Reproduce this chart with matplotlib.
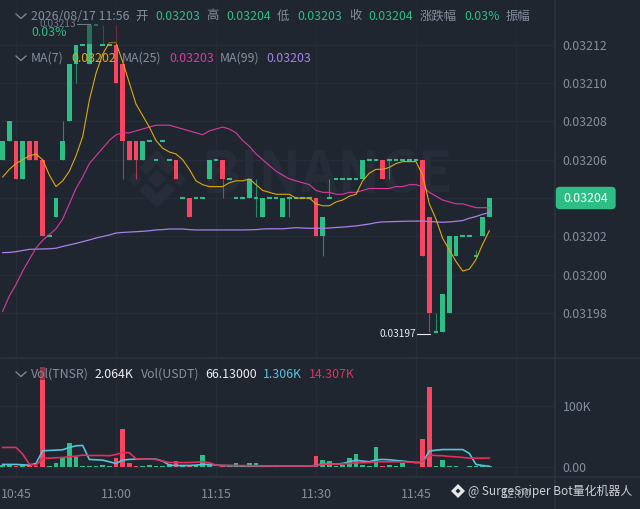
import matplotlib
matplotlib.use('Agg')
import matplotlib.pyplot as plt
from matplotlib.patches import Polygon, Rectangle, FancyBboxPatch
from matplotlib.lines import Line2D
from matplotlib.transforms import Affine2D

plt.rcParams['font.family'] = ['Noto Sans CJK SC', 'DejaVu Sans']

# prices are in units of 0.00001, so 204 means 0.03204
opens = [206, 207, 207, 205, 207, 207, 206, 202, 203, 206, 208, 211, 212, 211, 213, 212, 212, 212, 211, 207,
         207, 206, 207, 206, 207, 206, 206, 204, 204, 204, 204, 205, 206, 206, 205, 204, 204, 204, 204, 203,
         204, 204, 203, 204, 204, 204, 204, 204, 202, 204, 205, 205, 205, 205, 205, 206, 206, 206, 206, 206,
         206, 206, 206, 206, 203, 197, 197, 198, 201, 202, 202, 201, 202, 203]
highs = [207, 208, 207, 207, 207, 207, 206, 202, 204, 208, 211, 212, 212, 213, 213, 213, 212, 213, 211, 207,
         207, 207, 207, 206, 207, 206, 206, 204, 204, 204, 204, 206, 206, 206, 205, 204, 204, 205, 205, 204,
         204, 204, 204, 204, 204, 204, 204, 204, 203, 205, 205, 205, 205, 205, 206, 206, 206, 206, 206, 206,
         206, 206, 206, 206, 203, 198, 199, 202, 202, 202, 202, 201.3, 203, 204]
lows = [206, 207, 205, 205, 206, 206, 202, 202, 203, 206, 208, 210, 212, 211, 213, 212, 212, 210, 205, 206,
        205, 206, 207, 206, 207, 206, 205, 204, 203, 204, 204, 205, 206, 204, 205, 204, 204, 204, 203, 203,
        204, 204, 203, 203, 204, 204, 204, 202, 201, 204, 205, 205, 205, 205, 205, 206, 206, 205, 205, 206,
        206, 206, 206, 201, 197, 197, 197, 198, 201, 202, 202, 201, 202, 203]
closes = [207, 208, 205, 207, 206, 206, 202, 202, 204, 207, 211, 212, 212, 213, 213, 212, 212, 210, 207, 206,
          206, 207, 207, 206, 207, 206, 205, 204, 203, 204, 204, 206, 206, 205, 205, 204, 204, 205, 204, 204,
          204, 204, 204, 204, 204, 204, 204, 202, 203, 204, 205, 205, 205, 205, 206, 206, 206, 205, 206, 206,
          206, 206, 206, 201, 198, 197, 199, 202, 202, 202, 202, 201, 203, 204]

ma7 = [205.1, 205.5, 205.8, 206.0, 206.2, 206.3, 206.0, 205.2, 204.6, 204.9, 205.4, 206.2, 207.2, 209.1, 210.5,
       211.5, 212.1, 212.1, 211.1, 210.0, 208.9, 208.3, 207.7, 207.0, 206.6, 206.4, 206.3, 206.0, 205.5, 204.9,
       204.7, 204.6, 204.6, 204.6, 204.8, 204.9, 204.9, 205.0, 204.7, 204.4, 204.3, 204.2, 204.2, 204.2, 204.0,
       204.0, 204.0, 203.7, 203.6, 203.6, 203.8, 203.9, 204.1, 204.2, 204.9, 205.3, 205.5, 205.5, 205.6, 205.8,
       205.9, 205.9, 205.9, 205.2, 203.7, 202.9, 201.9, 201.3, 200.7, 200.2, 200.3, 200.8, 201.6, 202.3]
ma25 = [198.1, 198.9, 199.5, 200.2, 200.8, 201.4, 201.8, 202.1, 202.4, 202.9, 203.7, 204.5, 205.1, 205.8, 206.2,
        206.6, 207.0, 207.3, 207.4, 207.4, 207.5, 207.6, 207.7, 207.8, 207.8, 207.8, 207.7, 207.6, 207.5, 207.4,
        207.3, 207.5, 207.6, 207.7, 207.6, 207.4, 207.0, 206.7, 206.3, 206.0, 205.7, 205.4, 205.2, 205.0, 204.9,
        204.8, 204.7, 204.4, 204.3, 204.3, 204.2, 204.2, 204.3, 204.3, 204.4, 204.5, 204.5, 204.5, 204.5, 204.6,
        204.6, 204.7, 204.7, 204.6, 204.3, 204.1, 203.9, 203.8, 203.7, 203.7, 203.6, 203.5, 203.5, 203.5]
ma99 = [201.16, 201.17, 201.21, 201.27, 201.33, 201.34, 201.35, 201.36, 201.39, 201.48, 201.56, 201.64, 201.73,
        201.82, 201.92, 202.00, 202.08, 202.18, 202.21, 202.23, 202.25, 202.27, 202.30, 202.34, 202.36, 202.39,
        202.39, 202.39, 202.36, 202.34, 202.34, 202.34, 202.34, 202.34, 202.34, 202.34, 202.34, 202.35, 202.36,
        202.39, 202.40, 202.40, 202.40, 202.43, 202.46, 202.44, 202.43, 202.43, 202.43, 202.44, 202.47, 202.49,
        202.52, 202.55, 202.60, 202.65, 202.72, 202.76, 202.77, 202.78, 202.79, 202.80, 202.80, 202.81, 202.78,
        202.76, 202.74, 202.76, 202.79, 202.83, 202.95, 203.04, 203.16, 203.24]

# volume in thousands
volumes = [3.8, 3.8, 2.7, 3.8, 2.2, 2.2, 163, 2.2, 7.5, 14.6, 40, 17, 2.2, 2.2, 1.6, 3.8, 2.7, 15.6, 61.5, 7.5,
           2.7, 2.7, 3.8, 2.2, 1.6, 4.9, 10.8, 1.6, 3.2, 3.2, 19.4, 3.8, 1.1, 2.7, 2.7, 8, 2.7, 6.5, 6.5, 2.7,
           2.7, 2.2, 3.8, 3.2, 4.3, 3.2, 1.1, 19, 12, 11, 2.7, 3.8, 16, 21.6, 3.8, 2.2, 33.5, 2.7, 3.2, 2.7,
           6.5, 1.1, 1.1, 46.4, 129.6, 2.7, 12, 2.7, 2.2, 1.1, 1.6, 2.2, 2.7, 2.7]
vol_pink = [32.4, 32.4, 32.4, 21.6, 5.4, 3.8, 14.6, 15, 15.7, 16.2, 17.3, 18.4, 20, 19.4, 19.4, 19.4, 18.9, 21,
            24.3, 23.8, 14, 13.5, 13.5, 13, 10.3, 8, 8, 8, 8, 8.6, 9.2, 7.6, 3.8, 3.2, 3.2, 3, 3, 3, 2.7, 2.7,
            2.5, 2.5, 2.5, 2.5, 2.5, 2.5, 2.5, 3, 5.4, 5.4, 5.4, 5.9, 6.5, 7.6, 7.6, 8, 9.2, 9.2, 9.2, 9.2, 9.2,
            8.6, 8, 9.2, 20, 19.4, 18.9, 17.8, 17.3, 16.2, 15.1, 15.1, 15.1, 15.1]
vol_cyan = [4.9, 4.9, 4.9, 4.3, 3.8, 6.5, 27, 27.5, 28, 28.6, 32.4, 35, 35.6, 13, 12.4, 11.9, 9.2, 6.5, 11.9, 13,
            13.5, 13.5, 13.5, 13.5, 10.3, 3.8, 3.2, 3.2, 3.2, 3.8, 4.9, 4.9, 3.8, 3.2, 3, 2.7, 2.7, 2.7, 2.5, 2.5,
            2.5, 2.5, 2.5, 2.5, 2.5, 2.5, 2.5, 3, 6.5, 5.9, 5.4, 6.5, 9.2, 11.9, 10.3, 9.2, 12.4, 13, 12.4, 11.3,
            10.3, 9.2, 8, 8, 26.5, 28, 29, 29, 29, 29, 22.7, 4.9, 3.2, 2]

price_ticks = [198, 200, 202, 204, 206, 208, 210, 212]
time_pos = [2, 17, 32, 47, 62, 77]
time_labels = ['10:45', '11:00', '11:15', '11:30', '11:45', '12:00']

BG = '#1f2630'
GRID = '#262d38'
LINE = '#2c333e'
GRAY = '#848e9c'
GREEN = '#2ebd85'
RED = '#f9455f'
YELLOW = '#e0a80d'
PINK = '#d93aa0'
PURPLE = '#a97fe6'
CYAN = '#58c3dc'
VOLRED = '#e0305c'
FS = 8.9

W, H = 640, 509
fig = plt.figure(figsize=(W / 100, H / 100), dpi=100, facecolor=BG)
# overlays below are placed in image pixels, y going down
px = Affine2D().scale(1, -1).translate(0, H)

ax = fig.add_axes([0, 1 - 358 / H, 555 / W, 358 / H], facecolor=BG)
ax2 = fig.add_axes([0, 1 - 477 / H, 555 / W, 119 / H], facecolor=BG)
idx = list(range(len(opens)))

for a in (ax, ax2):
    a.set_xlim(-0.4, 82.85)
    for s in a.spines.values():
        s.set_visible(False)
    a.set_xticks(time_pos)
    a.grid(True, color=GRID, linewidth=1)
    a.set_axisbelow(True)
    a.yaxis.tick_right()
    a.tick_params(length=0, labelcolor=GRAY, labelsize=FS, pad=8)
    a.tick_params(axis='y', pad=5.5)

ax.set_ylim(195.67, 214.32)
ax.set_yticks(price_ticks)
# the 0.03204 label sits under the last price tag, so only the tag shows it
ax.set_yticklabels(['' if p == 204 else f'{0.03 + p * 1e-5:.5f}' for p in price_ticks])
ax.tick_params(labelbottom=False)

ax2.set_ylim(-15.4, 177)
ax2.set_yticks([0, 100])
ax2.set_yticklabels(['0.00', '100K'])
ax2.set_xticklabels(time_labels)
ax2.tick_params(axis='x', pad=8)

# watermark, under the candles
wm = '#262d38'
cx, cy = 157, 179
logo = [
    [(cx, cy - 9), (cx + 9, cy), (cx, cy + 9), (cx - 9, cy)],
    [(cx - 22, cy - 7), (cx - 15, cy), (cx - 22, cy + 7), (cx - 29, cy)],
    [(cx + 22, cy - 7), (cx + 29, cy), (cx + 22, cy + 7), (cx + 15, cy)],
    [(cx, cy - 29), (cx + 18, cy - 11), (cx + 11, cy - 4), (cx, cy - 15), (cx - 11, cy - 4), (cx - 18, cy - 11)],
    [(cx, cy + 29), (cx + 18, cy + 11), (cx + 11, cy + 4), (cx, cy + 15), (cx - 11, cy + 4), (cx - 18, cy + 11)],
]
for pts in logo:
    ax.add_patch(Polygon(pts, closed=True, facecolor=wm, edgecolor='none', transform=px, zorder=1))
ax.text(328, 176, 'BINANCE', transform=px, color=wm, fontsize=41, fontweight='bold', ha='center', va='center', zorder=1)

# candles
for i in idx:
    col = GREEN if closes[i] >= opens[i] else RED
    if highs[i] != lows[i]:
        ax.vlines(i, lows[i], highs[i], color=col, linewidth=0.8, alpha=0.65, zorder=2)
    if opens[i] == closes[i]:
        ax.hlines(opens[i], i - 0.35, i + 0.35, color=col, linewidth=1.5, zorder=3)
    else:
        ax.bar(i, abs(closes[i] - opens[i]), bottom=min(opens[i], closes[i]), width=0.7, color=col, zorder=3)
    ax2.bar(i, volumes[i], width=0.7, color=col, zorder=3)

ax.plot(idx, ma99, color=PURPLE, linewidth=0.9, zorder=4)
ax.plot(idx, ma25, color=PINK, linewidth=0.8, zorder=4)
ax.plot(idx, ma7, color=YELLOW, linewidth=0.8, zorder=4)
ax2.plot(idx, vol_cyan, color=CYAN, linewidth=1.2, zorder=4)
ax2.plot(idx, vol_pink, color=VOLRED, linewidth=1.2, zorder=4)

# legends sit on a half clear panel
ax.add_patch(Rectangle((0, 0), 545, 44, facecolor=BG, alpha=0.5, edgecolor='none', transform=px, zorder=5))
ax2.add_patch(Rectangle((0, 358), 360, 22, facecolor=BG, alpha=0.5, edgecolor='none', transform=px, zorder=5))

# panel borders
for (x0, y0, x1, y1) in [(555, 0, 555, H), (0, 358, W, 358), (0, 477, W, 477)]:
    fig.add_artist(Line2D([x0, x1], [y0, y1], color=LINE, linewidth=1.2, transform=px, zorder=6))

fig_text = lambda x, y, s, c=GRAY, size=FS, **kw: fig.text(x, y, s, color=c, fontsize=size, transform=px,
                                                           va='center', zorder=8, **kw)

# chevrons next to the legend rows
for y in (16, 58, 374):
    fig.add_artist(Line2D([16, 21, 26], [y - 2, y + 2.5, y - 2], color=GRAY, linewidth=0.9, transform=px, zorder=8))

row1 = [(31, '2026/08/17 11:56', GRAY), (135, '开', GRAY), (155, '0.03203', GREEN), (206, '高', GRAY),
        (226, '0.03204', GREEN), (277, '低', GRAY), (297, '0.03203', GREEN), (349, '收', GRAY),
        (368, '0.03204', GREEN), (420, '涨跌幅', GRAY), (464, '0.03%', GREEN), (506, '振幅', GRAY)]
for x, s, c in row1:
    fig_text(x, 16, s, c)
fig_text(31, 32, '0.03%', GREEN)

row2 = [(31, 'MA(7)', GRAY), (71, '0.03202', YELLOW), (122, 'MA(25)', GRAY), (169, '0.03203', PINK),
        (220, 'MA(99)', GRAY), (266, '0.03203', PURPLE)]
for x, s, c in row2:
    fig_text(x, 58, s, c)

row3 = [(31, 'Vol(TNSR)', GRAY), (95, '2.064K', '#eaecef'), (141, 'Vol(USDT)', GRAY), (205, '66.13000', '#eaecef'),
        (263, '1.306K', CYAN), (309, '14.307K', VOLRED)]
for x, s, c in row3:
    fig_text(x, 374, s, c)

# high and low marks
fig_text(39, 24, '0.03213', '#6f7986', size=7.3)
fig.add_artist(Line2D([77, 90], [24, 24], color='#6f7986', linewidth=0.8, transform=px, zorder=8))
fig_text(379, 334, '0.03197', '#eaecef', size=7.3)
fig.add_artist(Line2D([417, 430], [334, 334], color='#eaecef', linewidth=0.8, transform=px, zorder=8))

# last price tag
fig.add_artist(FancyBboxPatch((558.5, 189.5), 54.5, 17, boxstyle='round,pad=2.7,rounding_size=4', facecolor=GREEN,
                              edgecolor='none', transform=px, zorder=7))
fig_text(586, 198, '0.03204', 'white', ha='center')

# bottom right signature
sx, sy = 458, 491
fig.add_artist(Polygon([(sx, sy - 7), (sx + 7, sy), (sx, sy + 7), (sx - 7, sy)], closed=True, facecolor='#e6e8ea',
                       edgecolor='none', transform=px, zorder=7))
fig.add_artist(Polygon([(sx, sy - 2.5), (sx + 2.5, sy), (sx, sy + 2.5), (sx - 2.5, sy)], closed=True, facecolor=BG,
                       edgecolor='none', transform=px, zorder=7))
fig_text(468, 491, '@ SurgeSniper Bot量化机器人', '#cdd0d4', size=8.6)

fig.savefig('out.png', dpi=100, facecolor=BG)
